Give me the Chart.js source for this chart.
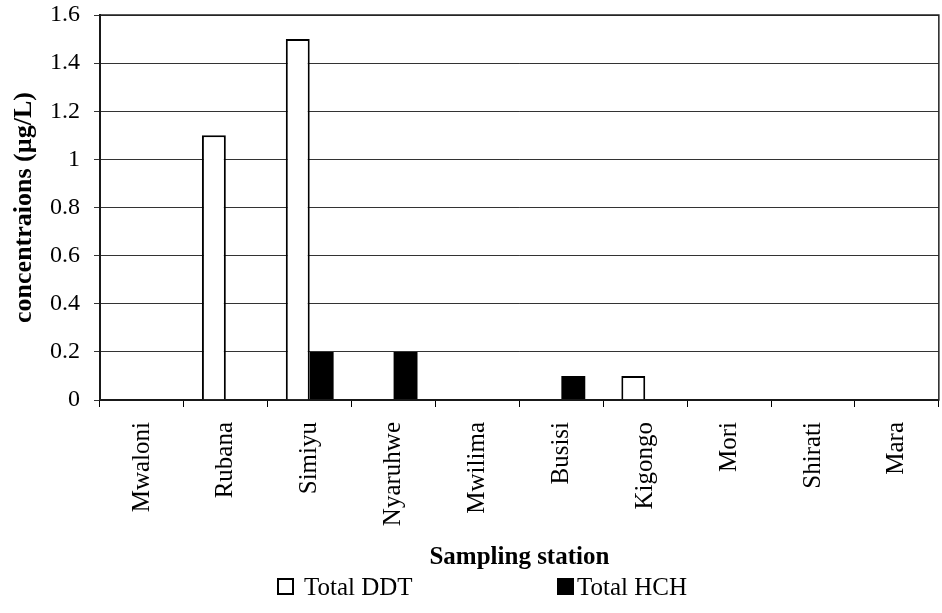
<!DOCTYPE html>
<html>
<head>
<meta charset="utf-8">
<script src="https://cdn.jsdelivr.net/npm/chart.js@4/dist/chart.umd.min.js"></script>
<style>
  html, body { margin: 0; padding: 0; background: #fff; }
  #wrap { position: relative; width: 942px; height: 613px; }
  #legend { position: absolute; left: 0; top: 0; width: 942px; height: 613px; pointer-events: none;
            font-family: "Liberation Serif", "Times New Roman", serif; font-size: 25px; color: #000; }
  .box { position: absolute; top: 578px; width: 17px; height: 17px; border: 2px solid #000; box-sizing: border-box; }
  .txt { position: absolute; top: 574px; height: 25px; line-height: 25px; white-space: nowrap; }
</style>
</head>
<body>
<div id="wrap">
  <canvas id="c" width="942" height="613"></canvas>
  <div id="legend"></div>
</div>
<script>
const categories = ["Mwaloni", "Rubana", "Simiyu", "Nyaruhwe", "Mwilima", "Busisi", "Kigongo", "Mori", "Shirati", "Mara"];
const seriesNames = ["Total DDT", "Total HCH"];
const totalDDT = [0, 1.1, 1.5, 0, 0, 0, 0.1, 0, 0, 0];
const totalHCH = [0, 0, 0.2, 0.2, 0, 0.1, 0, 0, 0, 0];
const yTicks = [0, 0.2, 0.4, 0.6, 0.8, 1, 1.2, 1.4, 1.6];
const yTickLabels = ["0", "0.2", "0.4", "0.6", "0.8", "1", "1.2", "1.4", "1.6"];

const serif = '"Liberation Serif", "Times New Roman", serif';
const fills = ["#ffffff", "#000000"];

const frame = {
  id: 'frame',
  afterDraw(chart) {
    const a = chart.chartArea, ctx = chart.ctx;
    ctx.save();
    ctx.strokeStyle = '#222';
    ctx.lineWidth = 1.5;
    ctx.strokeRect(a.left, a.top, a.right - a.left, a.bottom - a.top);
    ctx.restore();
  }
};

new Chart(document.getElementById('c'), {
  type: 'bar',
  data: {
    labels: categories,
    datasets: [
      { label: seriesNames[0], data: totalDDT, backgroundColor: fills[0], borderColor: '#000', borderWidth: 2, borderSkipped: 'bottom' },
      { label: seriesNames[1], data: totalHCH, backgroundColor: fills[1], borderColor: '#000', borderWidth: 0 }
    ]
  },
  plugins: [frame],
  options: {
    responsive: false,
    animation: false,
    layout: { padding: { top: 15, right: 2, left: 0, bottom: 40 } },
    plugins: { legend: { display: false }, tooltip: { enabled: false } },
    datasets: { bar: { barPercentage: 1, categoryPercentage: 0.57 } },
    scales: {
      x: {
        afterFit(s) { s.height = 173; s.paddingTop = 0; s.paddingBottom = 0; },
        grid: { display: true, drawOnChartArea: false, offset: true, color: '#000', tickLength: 7, lineWidth: 1 },
        border: { color: '#000', width: 2 },
        ticks: { minRotation: 90, maxRotation: 90, autoSkip: false, color: '#000', font: { family: serif, size: 25 }, padding: 15 },
        title: { display: true, text: 'Sampling station', color: '#000',
                 font: { family: serif, size: 25, weight: 'bold' }, padding: { top: 0, bottom: 0 } }
      },
      y: {
        min: 0, max: 1.6,
        afterFit(s) { s.width = 100; s.paddingTop = 0; s.paddingBottom = 0; },
        afterBuildTicks(axis) { axis.ticks = yTicks.map(v => ({ value: v })); },
        grid: { color: '#333', lineWidth: 1, tickLength: 6 },
        border: { color: '#000', width: 2 },
        ticks: { color: '#000', font: { family: serif, size: 24 }, padding: 14,
                 callback: (v, i) => yTickLabels[i] },
        title: { display: true, text: 'concentraions (µg/L)', color: '#000',
                 font: { family: serif, size: 26, weight: 'bold' }, padding: { top: 9, bottom: 0 } }
      }
    }
  }
});

const legend = document.getElementById('legend');
const boxX = [277, 557];
const textX = [304, 577];
seriesNames.forEach((n, i) => {
  const b = document.createElement('div');
  b.className = 'box';
  b.style.left = boxX[i] + 'px';
  b.style.background = fills[i];
  const t = document.createElement('div');
  t.className = 'txt';
  t.style.left = textX[i] + 'px';
  t.textContent = n;
  legend.appendChild(b); legend.appendChild(t);
});
</script>
</body>
</html>
